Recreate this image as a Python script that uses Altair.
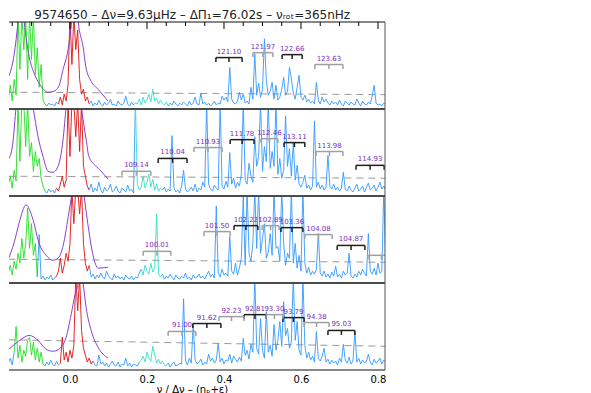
import altair as alt
import pandas as pd

# ---------------- data ----------------
X_START = -0.16
X_STEP = 0.005

SPEC1 = [10, 24, 8, 30, 14, 95, 40, 95, 60, 95,
         30, 95, 50, 95, 35, 62, 22, 45, 9, 5,
         3, 6, 4, 5, 3, 7, 5, 12, 4, 15,
         8, 25, 95, 45, 95, 60, 80, 30, 15, 20,
         8, 12, 5, 8, 3, 6, 4, 9, 5, 3,
         7, 4, 6, 10, 4, 5, 3, 8, 5, 4,
         6, 13, 5, 3, 7, 4, 6, 5, 10, 4,
         12, 6, 9, 15, 7, 20, 8, 11, 5, 9,
         6, 4, 7, 3, 6, 4, 8, 5, 3, 6,
         4, 7, 5, 3, 8, 4, 6, 12, 5, 4,
         16, 5, 7, 4, 6, 3, 5, 8, 4, 6,
         5, 13, 9, 12, 7, 42, 10, 6, 5, 8,
         17, 9, 15, 6, 8, 5, 22, 10, 56, 14,
         26, 12, 20, 71, 29, 14, 18, 27, 10, 24,
         9, 12, 20, 32, 14, 18, 42, 31, 16, 10,
         22, 34, 12, 9, 14, 7, 10, 6, 8, 5,
         27, 9, 5, 12, 7, 10, 6, 4, 8, 5,
         7, 4, 9, 5, 3, 8, 6, 4, 7, 5,
         4, 10, 6, 3, 8, 5, 4, 7, 5, 13,
         24, 6, 4, 5, 3, 6, 4]

SPEC2 = [12, 20, 8, 26, 15, 95, 35, 95, 95, 50,
         95, 40, 54, 25, 45, 30, 38, 18, 10, 5,
         3, 7, 4, 6, 3, 8, 5, 12, 20, 9,
         16, 95, 40, 95, 95, 60, 95, 45, 95, 30,
         20, 10, 6, 12, 4, 8, 5, 14, 6, 3,
         9, 5, 7, 12, 4, 6, 10, 5, 3, 8,
         6, 4, 11, 5, 7, 3, 95, 12, 6, 9,
         20, 8, 14, 22, 9, 17, 6, 12, 5, 8,
         6, 9, 4, 7, 5, 61, 8, 4, 6, 3,
         10, 26, 7, 4, 6, 9, 5, 12, 4, 8,
         6, 14, 9, 95, 12, 7, 5, 11, 8, 6,
         95, 10, 7, 15, 9, 44, 12, 18, 8, 14,
         10, 22, 95, 16, 12, 33, 20, 14, 60, 30,
         40, 95, 25, 50, 35, 95, 28, 45, 30, 95,
         22, 38, 18, 26, 81, 30, 48, 20, 54, 16,
         31, 12, 9, 14, 21, 8, 11, 6, 10, 76,
         9, 14, 7, 11, 6, 9, 41, 10, 7, 12,
         6, 9, 5, 8, 24, 7, 5, 10, 6, 4,
         8, 12, 5, 7, 10, 4, 9, 13, 6, 8,
         11, 5, 9, 14, 7, 10, 6]

SPEC3 = [10, 18, 8, 22, 14, 30, 20, 45, 25, 40,
         76, 35, 60, 28, 40, 6, 49, 4, 7, 3,
         6, 4, 8, 3, 5, 7, 12, 25, 10, 18,
         30, 22, 40, 95, 60, 95, 95, 70, 95, 40,
         20, 12, 18, 6, 9, 4, 8, 5, 10, 6,
         4, 12, 7, 5, 3, 9, 5, 7, 4, 6,
         3, 8, 5, 4, 7, 3, 6, 5, 10, 14,
         8, 18, 12, 9, 20, 11, 15, 70, 10, 6,
         9, 4, 7, 5, 9, 6, 3, 8, 5, 4,
         7, 5, 10, 4, 6, 3, 8, 5, 6, 9,
         5, 7, 4, 8, 12, 6, 9, 5, 78, 10,
         6, 14, 8, 10, 7, 47, 12, 9, 20, 8,
         15, 25, 87, 18, 95, 30, 22, 40, 95, 35,
         95, 30, 45, 60, 25, 31, 50, 28, 95, 35,
         37, 22, 95, 40, 18, 30, 25, 95, 20, 40,
         15, 28, 12, 95, 20, 10, 16, 8, 12, 9,
         14, 50, 10, 7, 12, 6, 9, 5, 11, 7,
         17, 6, 9, 5, 12, 8, 10, 30, 7, 5,
         9, 6, 12, 8, 14, 10, 7, 50, 12, 9,
         15, 8, 20, 10, 12, 95, 20]

SPEC4 = [7, 12, 5, 18, 44, 12, 25, 8, 20, 14,
         30, 33, 15, 28, 10, 22, 8, 18, 6, 4,
         8, 5, 10, 6, 4, 9, 5, 7, 33, 10,
         18, 8, 20, 12, 25, 95, 60, 95, 40, 22,
         15, 8, 12, 6, 9, 5, 4, 15, 6, 8,
         4, 7, 3, 6, 9, 5, 4, 8, 3, 6,
         5, 12, 4, 7, 3, 6, 5, 4, 8, 10,
         14, 8, 18, 12, 9, 24, 15, 7, 11, 6,
         9, 5, 4, 7, 3, 6, 8, 4, 5, 7,
         6, 72, 9, 5, 12, 7, 46, 10, 6, 8,
         11, 5, 8, 6, 16, 9, 12, 7, 10, 27,
         8, 12, 6, 10, 9, 16, 7, 14, 11, 8,
         13, 9, 32, 15, 20, 11, 26, 18, 95, 22,
         16, 52, 20, 12, 59, 18, 25, 14, 46, 20,
         30, 49, 24, 69, 35, 42, 22, 28, 95, 30,
         49, 20, 15, 95, 25, 12, 18, 10, 14, 8,
         39, 12, 9, 14, 22, 8, 11, 6, 10, 7,
         9, 5, 12, 8, 26, 10, 7, 13, 6, 9,
         39, 8, 12, 6, 10, 7, 9, 16, 8, 5,
         11, 7, 9, 12, 6, 10, 8]

SPECTRA = [SPEC1, SPEC2, SPEC3, SPEC4]

# coloured parts of the spectrum (x ranges)
GREEN_RANGE = [(-0.16, -0.07), (-0.16, -0.07), (-0.16, -0.09), (-0.145, -0.07)]
RED_RANGE = [(-0.03, 0.045), (-0.035, 0.045), (-0.04, 0.045), (-0.025, 0.055)]
CYAN_RANGE = [(0.17, 0.25), (0.17, 0.235), (0.185, 0.235), (0.18, 0.25)]

# purple profile curves: x positions and heights
PURPLE_X = [
    [-0.179, -0.166, -0.153, -0.145, -0.140, -0.135, -0.127, -0.119, -0.106, -0.093, -0.075, -0.057,
     -0.042, -0.029, -0.018, -0.005, 0.003, 0.013, 0.023, 0.034, 0.041, 0.055, 0.073, 0.099],
    [-0.179, -0.166, -0.156, -0.148, -0.140, -0.119, -0.096, -0.083, -0.070, -0.057, -0.044,
     -0.031, -0.018, -0.010, 0.010, 0.029, 0.042, 0.049, 0.068, 0.081, 0.099],
    [-0.179, -0.161, -0.145, -0.132, -0.114, -0.096, -0.081, -0.062, -0.044, -0.029, -0.016,
     -0.003, 0.005, 0.021, 0.036, 0.047, 0.060, 0.073, 0.099],
    [-0.179, -0.153, -0.127, -0.106, -0.083, -0.062, -0.044, -0.029, -0.010, 0.003, 0.013,
     0.021, 0.026, 0.034, 0.042, 0.055, 0.073, 0.099],
]
PURPLE_H = [
    [20, 28, 40, 55, 70, 88, 120, 88, 53, 36, 23, 17, 18, 23, 40, 60, 83, 120, 83, 63, 43, 28, 20, 8],
    [37, 36, 40, 55, 90, 140, 90, 60, 40, 25, 24, 30, 57, 90, 140, 90, 57, 40, 30, 25, 17],
    [15, 24, 41, 61, 79, 64, 41, 28, 23, 26, 41, 71, 90, 130, 90, 58, 28, 15, 16],
    [15, 23, 31, 35, 30, 21, 19, 21, 33, 56, 76, 88, 110, 88, 63, 40, 23, 12],
]

# dashed threshold line: (x, height) at both ends
DASH_X = [-0.16, 0.82]
DASH_H = [(17, 14.5), (20, 18), (24, 21), (30.5, 24)]

# brackets: label, left x, right x, height, tone
BR_LABEL = [
    ["121.10", "121.97", "122.66", "123.63"],
    ["109.14", "110.04", "110.93", "111.78", "112.46", "113.11", "113.98", "114.93"],
    ["100.01", "101.50", "102.22", "102.89", "103.36", "104.08", "104.87", ""],
    ["91.00", "91.62", "92.23", "92.81", "93.30", "93.79", "94.38", "95.03"],
]
BR_LEFT = [
    [0.379, 0.475, 0.551, 0.636],
    [0.135, 0.229, 0.322, 0.416, 0.496, 0.556, 0.639, 0.743],
    [0.190, 0.348, 0.426, 0.499, 0.548, 0.610, 0.694, 0.774],
    [0.255, 0.319, 0.387, 0.452, 0.509, 0.553, 0.608, 0.670],
]
BR_RIGHT = [
    [0.447, 0.527, 0.603, 0.709],
    [0.210, 0.304, 0.395, 0.478, 0.540, 0.610, 0.709, 0.816],
    [0.262, 0.416, 0.488, 0.543, 0.605, 0.681, 0.766, 0.844],
    [0.327, 0.392, 0.452, 0.509, 0.553, 0.608, 0.673, 0.740],
]
BR_H = [
    [52, 57, 55, 45],
    [25, 38, 49, 57, 58, 54, 45, 31],
    [32, 52, 58, 58, 56, 49, 38, 28],
    [39, 47, 54, 56, 56, 53, 48, 40],
]
BR_TONE = [
    ["dark", "light", "dark", "light"],
    ["light", "dark", "light", "dark", "light", "dark", "light", "dark"],
    ["light", "light", "dark", "light", "dark", "light", "dark", "light"],
    ["light", "dark", "light", "dark", "light", "dark", "light", "dark"],
]

TICKS_MAJOR = [0.0, 0.2, 0.4, 0.6, 0.8]
TICKS_MINOR = [-0.15, -0.1, -0.05, 0.05, 0.1, 0.15, 0.25, 0.3, 0.35, 0.45, 0.5, 0.55, 0.65, 0.7, 0.75]
AXIS_VALUES = [0.0, 0.2, 0.4, 0.6, 0.8]

TITLE = "9574650 – Δν=9.63μHz – ΔΠ₁=76.02s – νᵣₒₜ=365nHz"
XTITLE = "ν / Δν – (nₚ+ε)"

# ---------------- styling ----------------
FONT = "DejaVu Sans"
PURPLE = "#8a3fcf"
LABEL_PURPLE = "#7a2fb8"
TONE_COLOR = {"dark": "#1e1e1e", "light": "#a0a0a0"}
FRAME = "#111111"
XDOM = [-0.1584, 0.8182]
YDOM = [0, 88]
W, H = 376, 87
TICK_LEN = 4.5

kind_domain = ["blue", "green", "red", "cyan"]
kind_range = ["#3399ff", "#22dd22", "#e01010", "#33e0c8"]


def spectrum_df(p):
    ys = SPECTRA[p]
    xs = [X_START + X_STEP * i for i in range(len(ys))]

    def kind(x):
        for name, rng in (("green", GREEN_RANGE[p]), ("red", RED_RANGE[p]), ("cyan", CYAN_RANGE[p])):
            if rng[0] - 1e-9 <= x <= rng[1] + 1e-9:
                return name
        return "blue"

    kinds = [kind(x) for x in xs]
    rows = []
    seg = 0
    for i, (x, y) in enumerate(zip(xs, ys)):
        if i > 0 and kinds[i] != kinds[i - 1]:
            rows.append(dict(x=x, y=y, kind=kinds[i - 1], seg=seg, o=i))
            seg += 1
        rows.append(dict(x=x, y=y, kind=kinds[i], seg=seg, o=i))
    return pd.DataFrame(rows)


def xenc(field, p):
    if p == 3:
        axis = alt.Axis(values=AXIS_VALUES, format=".1f", ticks=False, domain=False, grid=False,
                        labelFont=FONT, labelFontSize=10, labelColor="black", labelPadding=4,
                        title=XTITLE, titleFont=FONT, titleFontSize=10, titleFontWeight="normal",
                        titleColor="black", titlePadding=0, titleX=183)
    else:
        axis = None
    return alt.X(field, type="quantitative", scale=alt.Scale(domain=XDOM, nice=False, zero=False),
                 axis=axis)


def yenc(field):
    return alt.Y(field, type="quantitative", scale=alt.Scale(domain=YDOM, nice=False, zero=False), axis=None)


frame_df = pd.DataFrame({"k": [0]})

panels = []
for p in range(4):
    layers = []
    dash_df = pd.DataFrame({"x": DASH_X, "y": list(DASH_H[p])})
    layers.append(alt.Chart(dash_df).mark_line(color="#9a9a9a", strokeDash=[7, 5], strokeWidth=1, clip=True)
                  .encode(x=xenc("x", p), y=yenc("y")))

    sdf = spectrum_df(p)
    layers.append(alt.Chart(sdf).mark_line(strokeWidth=0.9, clip=True).encode(
        x=xenc("x", p), y=yenc("y"),
        color=alt.Color("kind:N", scale=alt.Scale(domain=kind_domain, range=kind_range), legend=None),
        detail="seg:N", order="o:Q"))

    pdf = pd.DataFrame({"x": PURPLE_X[p], "y": PURPLE_H[p]})
    layers.append(alt.Chart(pdf).mark_line(color=PURPLE, strokeWidth=1, interpolate="monotone", clip=True)
                  .encode(x=xenc("x", p), y=yenc("y")))

    bdf = pd.DataFrame({"label": BR_LABEL[p], "xl": BR_LEFT[p], "xr": BR_RIGHT[p], "h": BR_H[p],
                        "tone": BR_TONE[p]})
    bdf["xm"] = (bdf["xl"] + bdf["xr"]) / 2
    bdf["h2"] = bdf["h"] - TICK_LEN
    for tone_name, tone_col in TONE_COLOR.items():
        sub = bdf[bdf["tone"] == tone_name]
        if len(sub) == 0:
            continue
        layers.append(alt.Chart(sub).mark_rule(strokeWidth=1.5, color=tone_col, clip=True).encode(
            x=xenc("xl", p), x2="xr", y=yenc("h")))
        for col in ("xl", "xr", "xm"):
            layers.append(alt.Chart(sub).mark_rule(strokeWidth=1.5, color=tone_col, clip=True).encode(
                x=xenc(col, p), y=yenc("h"), y2="h2"))
    layers.append(alt.Chart(bdf).mark_text(font=FONT, fontSize=7, color=LABEL_PURPLE, baseline="bottom",
                                           dy=-3, clip=True)
                  .encode(x=xenc("xm", p), y=yenc("h"), text="label:N"))

    if p == 0:
        layers.append(alt.Chart(pd.DataFrame({"x": TICKS_MAJOR})).mark_rule(color="black", strokeWidth=1)
                      .encode(x=xenc("x", p), y=alt.value(0), y2=alt.value(7)))
        layers.append(alt.Chart(pd.DataFrame({"x": TICKS_MINOR})).mark_rule(color="black", strokeWidth=1)
                      .encode(x=xenc("x", p), y=alt.value(0), y2=alt.value(4)))

    # frame: top, bottom and right edges (the left edge is cropped in the reference)
    layers.append(alt.Chart(frame_df).mark_rule(color=FRAME, strokeWidth=1)
                  .encode(x=alt.value(0), x2=alt.value(W), y=alt.value(0)))
    layers.append(alt.Chart(frame_df).mark_rule(color=FRAME, strokeWidth=1)
                  .encode(x=alt.value(0), x2=alt.value(W), y=alt.value(H)))
    layers.append(alt.Chart(frame_df).mark_rule(color="#555555", strokeWidth=1)
                  .encode(x=alt.value(W), y=alt.value(0), y2=alt.value(H)))

    panels.append(alt.layer(*layers).properties(width=W, height=H))

chart = alt.vconcat(*panels, spacing=0, bounds="flush").properties(
    title=alt.TitleParams(text=TITLE, font=FONT, fontSize=12, fontWeight="normal", color="#222222",
                          anchor="middle", offset=0, dx=-5),
    padding={"left": 0, "top": 0, "right": 4, "bottom": 0},
).configure_view(stroke=None)

chart.save("out.html", embed_options={"renderer": "svg", "actions": False})
